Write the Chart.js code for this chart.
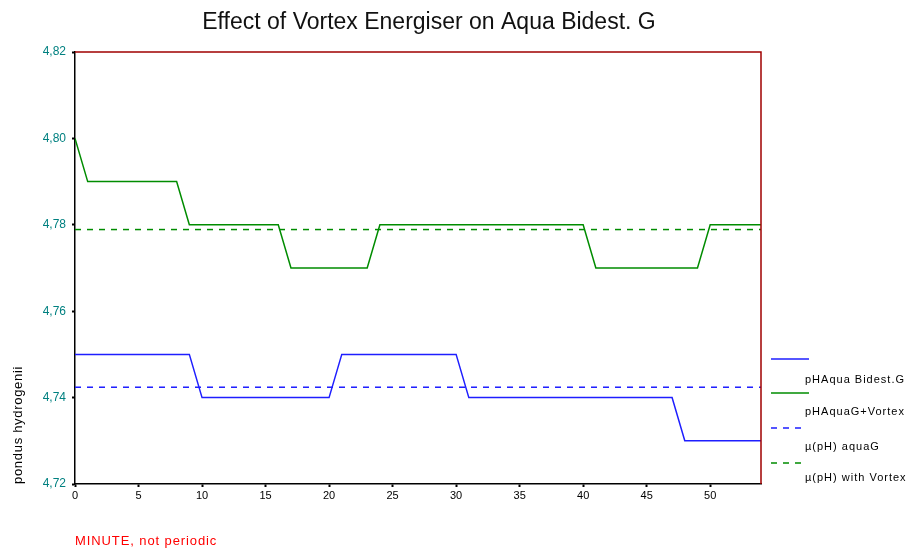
<!DOCTYPE html>
<html lang="en">
<head>
    <meta charset="UTF-8">
    <title>Effect of Vortex Energiser on Aqua Bidest. G</title>
    <script src="https://cdn.jsdelivr.net/npm/chart.js"></script>
    <style>
        html, body { margin: 0; padding: 0; background: #fff; }
        #wrap { position: relative; width: 915px; height: 548px; }
    </style>
</head>
<body>
    <div id="wrap"><canvas id="chart" width="915" height="548"></canvas></div>

    <script>
        // minutes, one reading per minute
        const minutes = [0,1,2,3,4,5,6,7,8,9,10,11,12,13,14,15,16,17,18,19,20,21,22,23,24,25,26,27,
            28,29,30,31,32,33,34,35,36,37,38,39,40,41,42,43,44,45,46,47,48,49,50,51,52,53,54];

        const phAquaG = [4.75,4.75,4.75,4.75,4.75,4.75,4.75,4.75,4.75,4.75,
            4.74,4.74,4.74,4.74,4.74,4.74,4.74,4.74,4.74,4.74,4.74,
            4.75,4.75,4.75,4.75,4.75,4.75,4.75,4.75,4.75,4.75,
            4.74,4.74,4.74,4.74,4.74,4.74,4.74,4.74,4.74,4.74,4.74,4.74,4.74,4.74,4.74,4.74,4.74,
            4.73,4.73,4.73,4.73,4.73,4.73,4.73];

        const phAquaVortex = [4.80,
            4.79,4.79,4.79,4.79,4.79,4.79,4.79,4.79,
            4.78,4.78,4.78,4.78,4.78,4.78,4.78,4.78,
            4.77,4.77,4.77,4.77,4.77,4.77,4.77,
            4.78,4.78,4.78,4.78,4.78,4.78,4.78,4.78,4.78,4.78,4.78,4.78,4.78,4.78,4.78,4.78,4.78,
            4.77,4.77,4.77,4.77,4.77,4.77,4.77,4.77,4.77,
            4.78,4.78,4.78,4.78,4.78];

        // mean lines
        const meanMinutes = [0, 54];
        const meanAquaG = [4.7424, 4.7424];
        const meanVortex = [4.7789, 4.7789];

        const seriesLabels = ['pHAqua Bidest.G', 'pHAquaG+Vortex', '\u00b5(pH) aquaG', '\u00b5(pH) with Vortex'];
        const yTicks = [4.72, 4.74, 4.76, 4.78, 4.80, 4.82];
        const xTicks = [0, 5, 10, 15, 20, 25, 30, 35, 40, 45, 50];

        const blue = 'rgb(30,30,255)';
        const green = 'rgb(0,140,0)';
        const FONT = 'Arial, "Liberation Sans", sans-serif';

        const pts = (xs, ys) => xs.map((x, i) => ({ x: x, y: ys[i] }));

        // title, axis titles, red frame and legend
        const decor = {
            id: 'decor',
            afterDraw(chart) {
                const c = chart.ctx;
                const a = chart.chartArea;
                c.save();
                c.strokeStyle = '#a00000';
                c.lineWidth = 1.5;
                c.beginPath();
                c.moveTo(a.left, a.top);
                c.lineTo(a.right, a.top);
                c.lineTo(a.right, a.bottom);
                c.stroke();

                c.fillStyle = '#111';
                c.font = '23px ' + FONT;
                c.textAlign = 'center';
                c.textBaseline = 'middle';
                c.fillText('Effect of Vortex Energiser on Aqua Bidest. G', 429, 23);

                c.fillStyle = '#ff0000';
                c.font = '13px ' + FONT;
                c.textAlign = 'left';
                c.letterSpacing = '0.9px';
                c.fillText('MINUTE, not periodic', 75, 541);

                c.save();
                c.translate(18, 484);
                c.rotate(-Math.PI / 2);
                c.fillStyle = '#000';
                c.font = '13px ' + FONT;
                c.letterSpacing = '0.7px';
                c.fillText('pondus hydrogenii', 0, 0);
                c.restore();

                const lineY = [359, 393, 428, 463];
                const textY = [380, 412, 447, 478];
                c.letterSpacing = '1px';
                chart.data.datasets.forEach((ds, i) => {
                    c.strokeStyle = ds.borderColor;
                    c.lineWidth = 1.5;
                    c.setLineDash(ds.borderDash || []);
                    c.beginPath();
                    c.moveTo(771, lineY[i]);
                    c.lineTo(ds.borderDash ? 803 : 809, lineY[i]);
                    c.stroke();
                    c.setLineDash([]);
                    c.fillStyle = '#000';
                    c.font = '11px ' + FONT;
                    c.textAlign = 'left';
                    c.fillText(ds.label, 805, textY[i]);
                });
                c.restore();
            }
        };

        const ctx = document.getElementById('chart').getContext('2d');
        const chart = new Chart(ctx, {
            type: 'line',
            data: {
                datasets: [{
                    label: seriesLabels[0],
                    data: pts(minutes, phAquaG),
                    borderColor: blue,
                    borderWidth: 1.5,
                    pointRadius: 0,
                    tension: 0
                }, {
                    label: seriesLabels[1],
                    data: pts(minutes, phAquaVortex),
                    borderColor: green,
                    borderWidth: 1.5,
                    pointRadius: 0,
                    tension: 0
                }, {
                    label: seriesLabels[2],
                    data: pts(meanMinutes, meanAquaG),
                    borderColor: blue,
                    borderDash: [6, 6],
                    borderWidth: 1.5,
                    pointRadius: 0
                }, {
                    label: seriesLabels[3],
                    data: pts(meanMinutes, meanVortex),
                    borderColor: green,
                    borderDash: [6, 6],
                    borderWidth: 1.5,
                    pointRadius: 0
                }]
            },
            options: {
                responsive: false,
                animation: false,
                layout: { padding: { top: 52, right: 154, left: 0, bottom: 0 } },
                plugins: {
                    legend: { display: false },
                    tooltip: { enabled: false }
                },
                scales: {
                    x: {
                        type: 'linear',
                        min: 0,
                        max: 54,
                        afterFit: (s) => { s.height = 64; },
                        afterBuildTicks: (s) => { s.ticks = xTicks.map(v => ({ value: v })); },
                        ticks: {
                            color: '#000',
                            font: { family: FONT, size: 11 },
                            padding: 2,
                            maxRotation: 0,
                            autoSkip: false
                        },
                        grid: { drawOnChartArea: false, color: '#000', tickLength: 3, tickWidth: 2 },
                        border: { color: '#000', width: 1.5 }
                    },
                    y: {
                        min: 4.72,
                        max: 4.82,
                        afterFit: (s) => { s.width = 75; },
                        afterBuildTicks: (s) => { s.ticks = yTicks.map(v => ({ value: v })); },
                        ticks: {
                            color: '#008080',
                            font: { family: FONT, size: 12 },
                            padding: 6,
                            callback: (v) => v.toFixed(2).replace('.', ',')
                        },
                        grid: { drawOnChartArea: false, color: '#000', tickLength: 3, tickWidth: 2 },
                        border: { color: '#000', width: 1.5 }
                    }
                }
            },
            plugins: [decor]
        });
    </script>
</body>
</html>
